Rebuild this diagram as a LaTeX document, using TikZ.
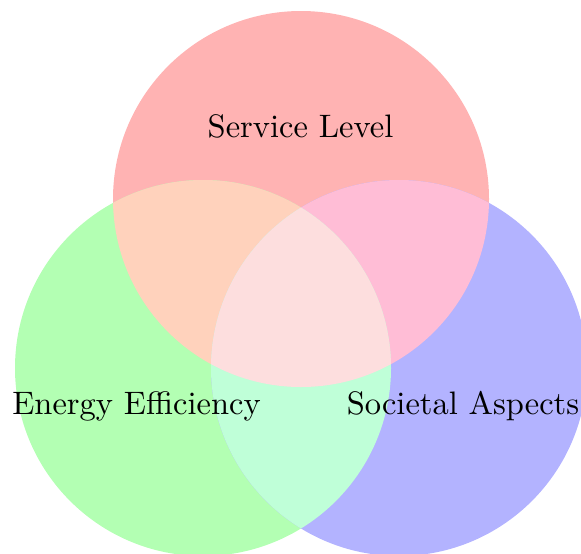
\documentclass[tikz,border=0pt]{standalone}
\definecolor{cR}{RGB}{255,179,179}
\definecolor{cG}{RGB}{179,255,179}
\definecolor{cB}{RGB}{179,179,255}
\definecolor{cRG}{RGB}{255,210,188}
\definecolor{cRB}{RGB}{255,189,214}
\definecolor{cGB}{RGB}{191,255,216}
\definecolor{cRGB}{RGB}{253,222,222}
\begin{document}
\begin{tikzpicture}[x=0.3077pt,y=-0.3077pt,
  lbl/.style={anchor=base, inner sep=0pt}]
\clip (0,0) rectangle (581,553);
\def\cr{(301,199) circle (188)}
\def\cg{(203,368) circle (188)}
\def\cb{(399,368) circle (188)}
\fill[cR] \cr;
\fill[cG] \cg;
\fill[cB] \cb;
\begin{scope}\clip \cr; \fill[cRG] \cg; \end{scope}
\begin{scope}\clip \cr; \fill[cRB] \cb; \end{scope}
\begin{scope}\clip \cg; \fill[cGB] \cb; \end{scope}
\begin{scope}\clip \cr; \clip \cg; \fill[cRGB] \cb; \end{scope}
\node[lbl] (service) at (300.5,137) {Service Level};
\node[lbl] (energy) at (136.5,414) {Energy Efficiency};
\node[lbl] (societal) at (463,414) {Societal Aspects};
\end{tikzpicture}
\end{document}
